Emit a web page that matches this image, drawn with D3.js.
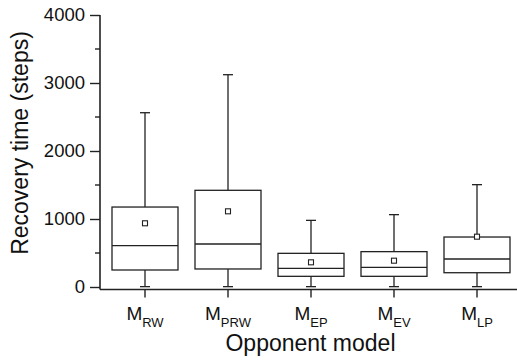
<!DOCTYPE html>
<html>
<head>
<meta charset="utf-8">
<script src="https://cdn.jsdelivr.net/npm/d3@7"></script>
<style>
  body { margin: 0; background: #fff; }
  text { font-family: 'Liberation Sans', Arial, sans-serif; fill: #111; }
</style>
</head>
<body>
<svg id="chart" width="517" height="360"></svg>
<script>
const models = ['RW', 'PRW', 'EP', 'EV', 'LP'];
const whiskerLow = [5, 5, 5, 5, 5];
const q1 = [250, 265, 157, 157, 210];
const median = [607, 632, 275, 290, 412];
const q3 = [1176, 1422, 495, 520, 735];
const whiskerHigh = [2563, 3122, 980, 1064, 1505];
const means = [937, 1113, 363, 387, 740];
const yTicks = [0, 1000, 2000, 3000, 4000];

const svg = d3.select('#chart');
const plotLeft = 100, plotRight = 517, plotTop = 15, zeroY = 287, axisY = 289.5;
const stroke = '#222';

const x = d3.scalePoint()
	.domain(models)
	.range([145, 477]);

const y = d3.scaleLinear()
	.domain([0, 4000])
	.range([zeroY, plotTop]);

const boxW = 66, capW = 10, meanS = 5;

// y axis
const yAxis = svg.append('g')
	.attr('transform', `translate(${plotLeft},0)`)
	.call(d3.axisLeft(y).tickValues(yTicks).tickFormat(d3.format('d'))
		.tickSize(10).tickPadding(5).tickSizeOuter(0));
yAxis.select('.domain').remove();
yAxis.selectAll('line').attr('stroke', stroke).attr('stroke-width', 1.4);
yAxis.selectAll('text').attr('font-size', '18.5px').attr('fill', '#111')
	.attr('font-family', "'Liberation Sans', Arial, sans-serif");

svg.append('g')
	.selectAll('line')
	.data(d3.range(500, 4000, 1000))
	.enter().append('line')
	.attr('x1', plotLeft - 5)
	.attr('x2', plotLeft)
	.attr('y1', d => y(d))
	.attr('y2', d => y(d))
	.attr('stroke', stroke)
	.attr('stroke-width', 1.4);

svg.append('line')
	.attr('x1', plotLeft).attr('x2', plotLeft)
	.attr('y1', plotTop).attr('y2', axisY)
	.attr('stroke', stroke).attr('stroke-width', 1.6);

// x axis
svg.append('line')
	.attr('x1', plotLeft).attr('x2', plotRight)
	.attr('y1', axisY).attr('y2', axisY)
	.attr('stroke', stroke).attr('stroke-width', 1.6);

const xt = svg.append('g')
	.selectAll('g')
	.data(models)
	.enter().append('g')
	.attr('transform', d => `translate(${x(d)},0)`);

xt.append('line')
	.attr('y1', axisY).attr('y2', axisY + 8)
	.attr('stroke', stroke).attr('stroke-width', 1.4);

const lbl = xt.append('text')
	.attr('y', 320)
	.attr('text-anchor', 'middle')
	.attr('font-size', '19px');
lbl.append('tspan').text('M');
lbl.append('tspan')
	.attr('font-size', '13px')
	.attr('dy', 7)
	.text(d => d);

// boxes
const box = svg.append('g')
	.selectAll('g')
	.data(models.map((m, i) => ({ m, i })))
	.enter().append('g')
	.attr('transform', d => `translate(${x(d.m)},0)`);

box.append('line')
	.attr('y1', d => y(whiskerHigh[d.i]))
	.attr('y2', d => y(q3[d.i]))
	.attr('stroke', stroke).attr('stroke-width', 1.3);
box.append('line')
	.attr('y1', d => y(q1[d.i]))
	.attr('y2', d => y(whiskerLow[d.i]))
	.attr('stroke', stroke).attr('stroke-width', 1.3);
box.append('line')
	.attr('x1', -capW / 2).attr('x2', capW / 2)
	.attr('y1', d => y(whiskerHigh[d.i]))
	.attr('y2', d => y(whiskerHigh[d.i]))
	.attr('stroke', stroke).attr('stroke-width', 1.3);
box.append('line')
	.attr('x1', -capW / 2).attr('x2', capW / 2)
	.attr('y1', d => y(whiskerLow[d.i]))
	.attr('y2', d => y(whiskerLow[d.i]))
	.attr('stroke', stroke).attr('stroke-width', 1.3);

box.append('rect')
	.attr('x', -boxW / 2)
	.attr('width', boxW)
	.attr('y', d => y(q3[d.i]))
	.attr('height', d => y(q1[d.i]) - y(q3[d.i]))
	.attr('fill', '#fff')
	.attr('stroke', stroke)
	.attr('stroke-width', 1.3);

box.append('line')
	.attr('x1', -boxW / 2).attr('x2', boxW / 2)
	.attr('y1', d => y(median[d.i]))
	.attr('y2', d => y(median[d.i]))
	.attr('stroke', stroke).attr('stroke-width', 1.3);

box.append('rect')
	.attr('x', -meanS / 2)
	.attr('y', d => y(means[d.i]) - meanS / 2)
	.attr('width', meanS)
	.attr('height', meanS)
	.attr('fill', '#fff')
	.attr('stroke', stroke)
	.attr('stroke-width', 1.1);

// axis titles
svg.append('text')
	.attr('x', (plotLeft + plotRight) / 2 + 2)
	.attr('y', 351)
	.attr('text-anchor', 'middle')
	.attr('font-size', '23px')
	.text('Opponent model');

svg.append('text')
	.attr('transform', `translate(28,143) rotate(-90)`)
	.attr('text-anchor', 'middle')
	.attr('font-size', '23px')
	.text('Recovery time (steps)');
</script>
</body>
</html>
